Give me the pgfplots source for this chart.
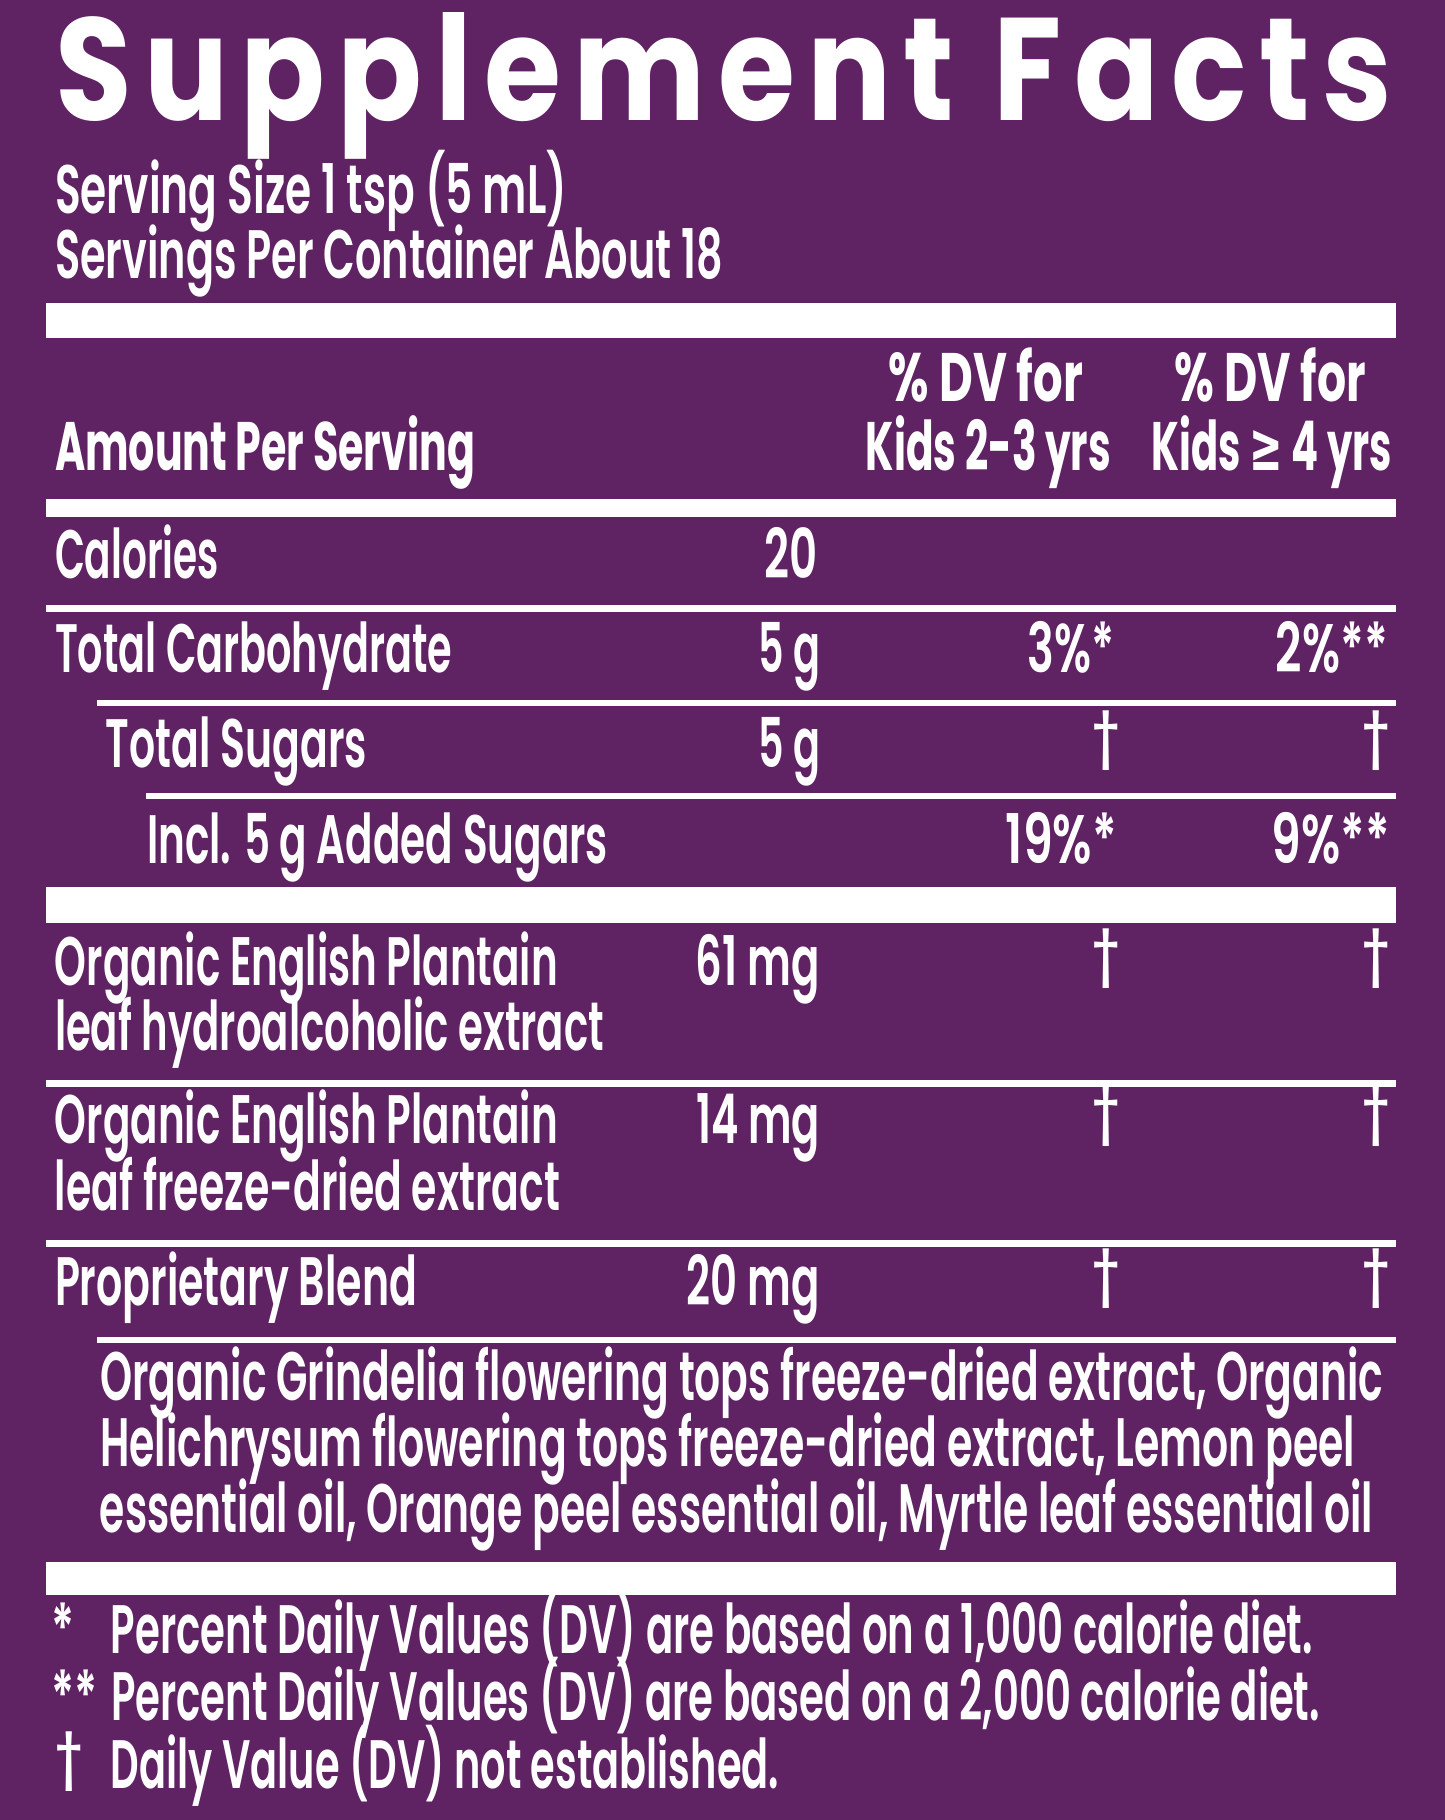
\documentclass[border=0pt]{standalone}
\usepackage{pgfplots}
\pgfplotsset{compat=1.18}
\usepackage{graphicx}
\usepackage{fontspec}
\setmainfont{Poppins}
\newfontfamily\titlefont{Poppins Bold}[LetterSpace=10]
\newfontfamily\bodyfont{Poppins SemiBold}
\newfontfamily\headfont{Poppins Bold}
\newfontfamily\symfont{DejaVu Sans Bold}
\definecolor{bg}{RGB}{95,34,99}
\newcommand\B{\bodyfont\fontsize{19.5pt}{22pt}\selectfont}
\newcommand\HB{\headfont\fontsize{19.5pt}{22pt}\selectfont}
\newcommand\tx[2]{\resizebox{#1mm}{\height}{\color{white}\B #2}}
\newcommand\tb[2]{\resizebox{#1mm}{\height}{\color{white}\HB #2}}
\newcommand\sx[1]{\scalebox{0.65}[1]{\color{white}\B #1}}
\newcommand\dg{\raisebox{1.16mm}{\scalebox{0.65}[0.83]{\color{white}\B †}}}
\tikzset{L/.style={inner sep=0pt, outer sep=0pt, text=white}}
\begin{document}
\begin{tikzpicture}
\begin{axis}[scale only axis, width=144.5mm, height=182mm,
  xmin=0, xmax=1445, ymin=0, ymax=1820, y dir=reverse, hide axis, clip=false]
\addplot[fill=bg, draw=none] coordinates {(0,0) (1445,0) (1445,1820) (0,1820)} -- cycle;
% rules
\addplot[white, line width=9.96pt] coordinates {(46,320.5) (1396,320.5)};
\addplot[white, line width=5.1pt] coordinates {(46,508) (1396,508)};
\addplot[white, line width=2pt] coordinates {(46,608.5) (1396,608.5)};
\addplot[white, line width=1.7pt] coordinates {(97,702.5) (1396,702.5)};
\addplot[white, line width=1.7pt] coordinates {(146,796) (1396,796)};
\addplot[white, line width=10.2pt] coordinates {(46,905) (1396,905)};
\addplot[white, line width=2pt] coordinates {(46,1083.5) (1396,1083.5)};
\addplot[white, line width=2pt] coordinates {(46,1243.5) (1396,1243.5)};
\addplot[white, line width=1.8pt] coordinates {(97,1340) (1396,1340)};
\addplot[white, line width=9.4pt] coordinates {(46,1578.5) (1396,1578.5)};
% title
\node[L, anchor=base west] at (axis cs:55,120) {\resizebox{133.7mm}{10.8mm}{\color{white}\titlefont\fontsize{41pt}{44pt}\selectfont Supplement Facts}};
\node[L, anchor=base west] at (axis cs:55,213) {\tx{51.2}{Serving Size 1 tsp (5 mL)}};
\node[L, anchor=base west] at (axis cs:55,278) {\tx{66.8}{Servings Per Container About 18}};
% header
\node[L, anchor=base west] at (axis cs:55,470) {\tb{42.0}{Amount Per Serving}};
\node[L, anchor=base west] at (axis cs:889,401) {\tb{19.4}{\% DV for}};
\node[L, anchor=base west] at (axis cs:866,470) {\tb{24.5}{Kids 2-3 yrs}};
\node[L, anchor=base west] at (axis cs:1175,401) {\tb{19.1}{\% DV for}};
\node[L, anchor=base west] at (axis cs:1152,470) {\tb{24.0}{Kids {\symfont ≥} 4 yrs}};
% rows
\node[L, anchor=base west] at (axis cs:55,578) {\tx{16.4}{Calories}};
\node[L, anchor=base east] at (axis cs:818,578) {\tx{5.3}{20}};
\node[L, anchor=base west] at (axis cs:55,672) {\tx{39.7}{Total Carbohydrate}};
\node[L, anchor=base east] at (axis cs:820,672) {\tx{6.2}{5 g}};
\node[L, anchor=base east] at (axis cs:1115,672) {\tx{8.7}{3\%*}};
\node[L, anchor=base east] at (axis cs:1388,672) {\tx{11.2}{2\%**}};
\node[L, anchor=base west] at (axis cs:106,767) {\tx{26.1}{Total Sugars}};
\node[L, anchor=base east] at (axis cs:820,767) {\tx{6.2}{5 g}};
\node[L, anchor=base east] at (axis cs:1120,767) {\dg};
\node[L, anchor=base east] at (axis cs:1390,767) {\dg};
\node[L, anchor=base west] at (axis cs:147,863) {\tx{46.1}{Incl. 5 g Added Sugars}};
\node[L, anchor=base east] at (axis cs:1117,863) {\tx{11.1}{19\%*}};
\node[L, anchor=base east] at (axis cs:1390,863) {\tx{11.8}{9\%**}};
\node[L, anchor=base west] at (axis cs:55,985) {\tx{50.3}{Organic English Plantain}};
\node[L, anchor=base west] at (axis cs:55,1050) {\tx{54.9}{leaf hydroalcoholic extract}};
\node[L, anchor=base east] at (axis cs:820,985) {\tx{12.4}{61 mg}};
\node[L, anchor=base east] at (axis cs:1120,985) {\dg};
\node[L, anchor=base east] at (axis cs:1390,985) {\dg};
\node[L, anchor=base west] at (axis cs:55,1143) {\tx{50.3}{Organic English Plantain}};
\node[L, anchor=base west] at (axis cs:55,1210) {\tx{50.5}{leaf freeze-dried extract}};
\node[L, anchor=base east] at (axis cs:820,1143) {\tx{12.4}{14 mg}};
\node[L, anchor=base east] at (axis cs:1120,1143) {\dg};
\node[L, anchor=base east] at (axis cs:1390,1143) {\dg};
\node[L, anchor=base west] at (axis cs:55,1305) {\tx{36.2}{Proprietary Blend}};
\node[L, anchor=base east] at (axis cs:820,1305) {\tx{13.3}{20 mg}};
\node[L, anchor=base east] at (axis cs:1120,1305) {\dg};
\node[L, anchor=base east] at (axis cs:1390,1305) {\dg};
\node[L, anchor=base west] at (axis cs:100,1400) {\tx{128.3}{Organic Grindelia flowering tops freeze-dried extract, Organic}};
\node[L, anchor=base west] at (axis cs:100,1466) {\tx{125.5}{Helichrysum flowering tops freeze-dried extract, Lemon peel}};
\node[L, anchor=base west] at (axis cs:100,1532) {\tx{127.3}{essential oil, Orange peel essential oil, Myrtle leaf essential oil}};
% footnotes
\node[L, anchor=base west] at (axis cs:51,1653) {\sx{*}};
\node[L, anchor=base west] at (axis cs:111,1653) {\tx{120.2}{Percent Daily Values (DV) are based on a 1,000 calorie diet.}};
\node[L, anchor=base west] at (axis cs:51,1720) {\sx{**}};
\node[L, anchor=base west] at (axis cs:111,1720) {\tx{120.9}{Percent Daily Values (DV) are based on a 2,000 calorie diet.}};
\node[L, anchor=base west] at (axis cs:55,1788) {\dg};
\node[L, anchor=base west] at (axis cs:111,1788) {\tx{66.8}{Daily Value (DV) not established.}};
\end{axis}
\end{tikzpicture}
\end{document}
